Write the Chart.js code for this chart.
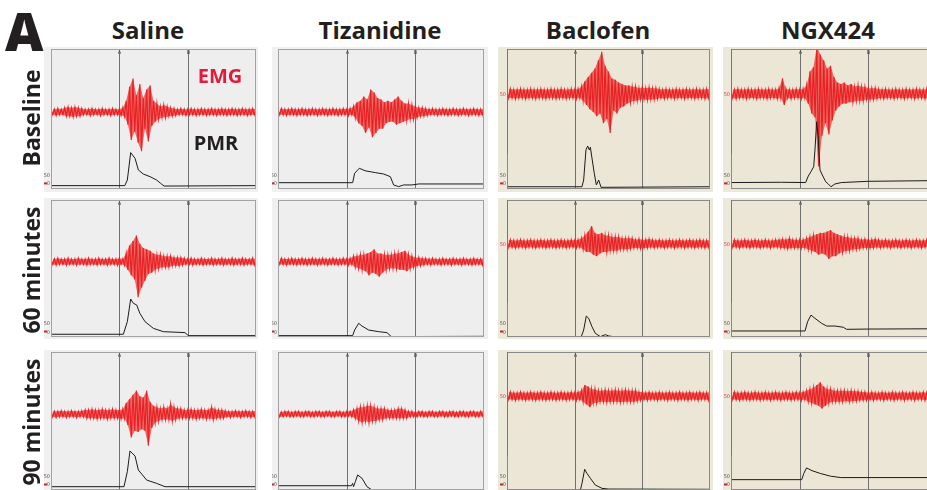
<!DOCTYPE html>
<html><head><meta charset="utf-8">
<script src="https://cdn.jsdelivr.net/npm/chart.js@4.4.1/dist/chart.umd.min.js"></script>
<style>
html,body{margin:0;padding:0;background:#fff;}
#root{position:relative;width:927px;height:490px;overflow:hidden;font-family:"Open Sans",sans-serif;}
#root canvas{position:absolute;}
.t{position:absolute;font-weight:700;color:#231f20;white-space:nowrap;text-align:center;}
</style></head><body><div id="root"></div>
<script>
// ---------------- DATA ----------------
const columns = ['Saline','Tizanidine','Baclofen','NGX424'];
const rowsLab = ['Baseline','60 minutes','90 minutes'];

// EMG envelope extremes (up / down) read every 5 time units (0..300), relative to trace baseline
const salBaseUp = [2,2,2.5,2,3,3.5,3,3.5,3,2.5, 2,2,2.5,2,2,2.5,2,2,2.5,2, 2,3,8,18,24,12,20,10,16,19, 8,6,4,5,4,3,2.5,2,2.5,2, 2,2.5,2,2,2.5,2,2,2.5,2,2, 2.5,2,2,2.5,2,2,2.5,2,2,2.5, 2];
const salBaseDn = [-2,-2.5,-2,-2,-3,-3,-3.5,-3,-3,-2, -2,-2.5,-2,-2,-2.5,-2,-2,-2.5,-2,-2, -2.5,-3,-9,-20,-14,-22,-28,-12,-21,-10, -7,-5,-4,-4,-3,-3,-2.5,-2,-2,-2.5, -2,-2,-2.5,-2,-2,-2.5,-2,-2,-2.5,-2, -2,-2.5,-2,-2,-2.5,-2,-2,-2.5,-2,-2, -2];
const tizBaseUp = [2,2.5,2,2,2.5,2,2,2.5,2,2, 2.5,2,2,2.5,2,2,2.5,2,2,2.5, 2,2.5,4,7,8,11,9,16,14,10, 9,7,8,7,9,11,8,6,6,5, 4,3,3,2.5,2,2.5,2,2,2.5,2, 2,2.5,2,2,2.5,2,2,2.5,2,2, 2.5];
const tizBaseDn = [-2,-2,-2.5,-2,-2,-2.5,-2,-2,-2.5,-2, -2,-2.5,-2,-2,-2.5,-2,-2,-2.5,-2,-2, -2.5,-2,-4,-8,-10,-15,-11,-18,-15,-12, -12,-8,-7,-7,-9,-8,-7,-6,-5,-5, -4,-3,-3,-2.5,-2,-2,-2.5,-2,-2,-2.5, -2,-2,-2.5,-2,-2,-2.5,-2,-2,-2.5,-2, -2];
const bacBaseUp = [3,3.5,3,3,3.5,3,3,3.5,3,3, 3.5,3,3,3.5,3,3,3.5,3,3,3.5, 3,3.5,5,9,12,15,18,24,30,20, 16,11,10,8,7,6,6,5,5,4, 4.5,4,4.5,4,4,3.5,3,3.5,3,3, 3.5,3,3,3.5,3,3,3.5,3,3,3.5, 3];
const bacBaseDn = [-3,-3,-3.5,-3,-3,-3.5,-3,-3,-3.5,-3, -3,-3.5,-3,-3,-3.5,-3,-3,-3.5,-3,-3, -3.5,-3,-5,-8,-11,-13,-16,-14,-21,-18, -28,-12,-14,-10,-9,-7,-6,-5,-5,-4, -4,-4.5,-4,-4,-3.5,-3,-3.5,-3,-3,-3.5, -3,-3,-3.5,-3,-3,-3.5,-3,-3,-3.5,-3, -3];
const ngxBaseUp = [3,3,3.5,3,3,3.5,3,3,3.5,3, 3,3.5,3,3,4,11,3.5,3,3,3.5, 3,3.5,6,16,19,34,28,24,18,20, 12,8,7,8,6,7,5,6,5,5, 4,4,4,3.5,3,3.5,3,3,3.5,3, 3,3.5,3,3,3.5,3,3,3.5,3,3, 3.5];
const ngxBaseDn = [-3,-3.5,-3,-3,-3.5,-3,-3,-3.5,-3,-3, -3.5,-3,-3,-3.5,-3,-8,-3,-3.5,-3,-3, -3.5,-3,-7,-14,-17,-52,-30,-21,-29,-19, -12,-9,-7,-7,-6,-6,-5,-5,-5,-4, -4,-4,-3.5,-3,-3.5,-3,-3,-3.5,-3,-3, -3.5,-3,-3,-3.5,-3,-3,-3.5,-3,-3,-3.5, -3];

const sal60Up = [2,2,2.5,2,2,2.5,2,2,2.5,2, 2,2.5,2,2,2.5,2,2,2.5,2,2, 2.5,2,6,12,15,19,13,10,9,8, 6,5,5,4,4,4,3,3,3,2.5, 2,2.5,2,2,2.5,2,2,2.5,2,2, 2.5,2,2,2.5,2,2,2.5,2,2,2.5, 2];
const sal60Dn = [-2,-2.5,-2,-2,-2.5,-2,-2,-2.5,-2,-2, -2.5,-2,-2,-2.5,-2,-2,-2.5,-2,-2,-2.5, -2,-2.5,-6,-10,-13,-26,-19,-14,-9,-8, -6,-5,-4,-4,-4,-3,-3,-3,-2.5,-2, -2,-2.5,-2,-2,-2.5,-2,-2,-2.5,-2,-2, -2.5,-2,-2,-2.5,-2,-2,-2.5,-2,-2,-2.5, -2];
const tiz60Up = [2,2.5,2,2,2.5,2,2,2.5,2,2, 2.5,2,2,2.5,2,2,2.5,2,2,2.5, 2,2.5,4,4,5,5,6,7,9,6, 6,5,5,5,6,6,7,8,5,4, 3,3,2.5,2.5,2,2.5,2,2,2.5,2, 2,2.5,2,2,2.5,2,2,2.5,2,2, 2.5];
const tiz60Dn = [-2,-2,-2.5,-2,-2,-2.5,-2,-2,-2.5,-2, -2,-2.5,-2,-2,-2.5,-2,-2,-2.5,-2,-2, -2.5,-2,-4,-5,-6,-7,-10,-8,-9,-11, -8,-6,-5,-5,-5,-6,-6,-7,-5,-4, -3,-3,-2.5,-2,-2.5,-2,-2,-2.5,-2,-2, -2.5,-2,-2,-2.5,-2,-2,-2.5,-2,-2,-2.5, -2];
const bac60Up = [2.5,3,2.5,2.5,3,2.5,2.5,3,2.5,2.5, 3,2.5,2.5,3,2.5,2.5,3,2.5,2.5,3, 2.5,3,4,6,9,13,8,7,8,6, 6,5,5,5,4,4,4,4,3,3.5, 3,3,3.5,3,2.5,3,2.5,2.5,3,2.5, 2.5,3,2.5,2.5,3,2.5,2.5,3,2.5,2.5, 3];
const bac60Dn = [-2.5,-2.5,-3,-2.5,-2.5,-3,-2.5,-2.5,-3,-2.5, -2.5,-3,-2.5,-2.5,-3,-2.5,-2.5,-3,-2.5,-2.5, -3,-2.5,-4,-6,-6,-8,-9,-7,-6,-6, -5,-5,-5,-4,-4,-4,-3.5,-3,-3,-3.5, -3,-3,-2.5,-3,-2.5,-2.5,-3,-2.5,-2.5,-3, -2.5,-2.5,-3,-2.5,-2.5,-3,-2.5,-2.5,-3,-2.5, -2.5];
const ngx60Up = [2.5,3,2.5,2.5,3,2.5,2.5,3,2.5,2.5, 3,2.5,2.5,3,3,3.5,3,4,3,3, 3,3,4,5,6,7,8,8,9,10, 8,7,6,5,5,4,4,4,3,3.5, 3,3,3.5,3,2.5,3,2.5,2.5,3,2.5, 2.5,3,2.5,2.5,3,2.5,2.5,3,2.5,2.5, 3];
const ngx60Dn = [-2.5,-2.5,-3,-2.5,-2.5,-3,-2.5,-2.5,-3,-2.5, -2.5,-3,-2.5,-2.5,-3,-3,-3.5,-3,-3,-3, -3,-3,-4,-5,-6,-8,-7,-8,-11,-9, -9,-7,-6,-5,-5,-4,-4,-3.5,-3,-3, -3,-3,-2.5,-3,-2.5,-2.5,-3,-2.5,-2.5,-3, -2.5,-2.5,-3,-2.5,-2.5,-3,-2.5,-2.5,-3,-2.5, -2.5];

const sal90Up = [2.5,2,2,2.5,2,2,2.5,2,2,2.5, 3,3,3.5,3,3,3.5,3,3,3.5,3, 3,3.5,8,11,14,17,13,12,17,9, 6,5,4,5,4,7,5,4,4,3, 3,3.5,3,3,3.5,3,3,5,3.5,3, 3,2.5,2,2,2.5,2,2,2.5,2,2, 2.5];
const sal90Dn = [-2,-2.5,-2,-2,-2.5,-2,-2,-2.5,-2,-2, -3,-3,-3,-3.5,-3,-3,-3.5,-3,-3,-3, -3.5,-3,-8,-17,-12,-13,-11,-12,-23,-10, -6,-5,-4,-4,-4,-5,-4,-3,-3,-3, -3,-3,-3.5,-3,-3,-3.5,-3,-4,-3,-3, -3,-2,-2.5,-2,-2,-2.5,-2,-2,-2.5,-2, -2];
const tiz90Up = [2,1.5,2,2,1.5,2,2,1.5,2,2, 1.5,2,2,1.5,2,2,1.5,2,2,1.5, 2,2,3,4,5,5,6,6,5,4, 4,4,3,3,3,4,4,3,2,2, 1.5,2,2,1.5,2,2,1.5,2,2,1.5, 2,2,1.5,2,2,1.5,2,2,1.5,2, 2];
const tiz90Dn = [-2,-2,-1.5,-2,-2,-1.5,-2,-2,-1.5,-2, -2,-1.5,-2,-2,-1.5,-2,-2,-1.5,-2,-2, -1.5,-2,-3,-5,-6,-5,-6,-5,-5,-4, -4,-3,-3,-3,-3,-3,-3,-3,-2,-2, -2,-1.5,-2,-2,-1.5,-2,-2,-1.5,-2,-2, -1.5,-2,-2,-1.5,-2,-2,-1.5,-2,-2,-1.5, -2];
const bac90Up = [2.5,3,2.5,2.5,3,2.5,2.5,3,2.5,2.5, 3,2.5,2.5,3,2.5,2.5,3,2.5,2.5,3, 2.5,3,4,8,7,5,5,4,4,4.5, 4,4,4.5,4,4,4.5,4,4,4,3, 3,2.5,3,2.5,2.5,3,2.5,2.5,3,2.5, 2.5,3,2.5,2.5,3,2.5,2.5,3,2.5,2.5, 3];
const bac90Dn = [-2.5,-2.5,-3,-2.5,-2.5,-3,-2.5,-2.5,-3,-2.5, -2.5,-3,-2.5,-2.5,-3,-2.5,-2.5,-3,-2.5,-2.5, -3,-2.5,-4,-6,-8,-5,-5,-4,-4,-4.5, -4,-4,-4,-4.5,-4,-4,-4,-4,-3.5,-3, -2.5,-3,-2.5,-2.5,-3,-2.5,-2.5,-3,-2.5,-2.5, -3,-2.5,-2.5,-3,-2.5,-2.5,-3,-2.5,-2.5,-3, -2.5];
const ngx90Up = [2.5,3,2.5,2.5,3,2.5,2.5,3,2.5,2.5, 3,2.5,2.5,3,2.5,2.5,3,2.5,2.5,3, 2.5,3,4,5,6,8,10,7,5,5, 4,4,4,4,3.5,4,3.5,3.5,3,3, 2.5,3,2.5,2.5,3,2.5,2.5,3,2.5,2.5, 3,2.5,2.5,3,2.5,2.5,3,2.5,2.5,3, 2.5];
const ngx90Dn = [-2.5,-2.5,-3,-2.5,-2.5,-3,-2.5,-2.5,-3,-2.5, -2.5,-3,-2.5,-2.5,-3,-2.5,-2.5,-3,-2.5,-2.5, -3,-2.5,-4,-5,-6,-7,-9,-7,-5,-4, -4,-4,-4,-3.5,-4,-3.5,-3.5,-3,-3,-3, -2.5,-3,-2.5,-2.5,-3,-2.5,-2.5,-3,-2.5,-2.5, -3,-2.5,-2.5,-3,-2.5,-2.5,-3,-2.5,-2.5,-3, -2.5];

// PMR traces: vertices (time, level)
const salBasePmrT = [0,108,111.7,116.6,123,127.8,135,145,154.6,160.5,165.4,300];
const salBasePmrV = [2.4,2.4,6.4,26,21.9,13.6,10.7,8.8,6.4,4,2.1,2.4];
const tizBasePmrT = [0,108.7,111.6,115,118.4,127,141.7,153.9,163.6,168.4,175.7,183,195,205,300];
const tizBasePmrV = [4.5,4.5,11.2,13,14.8,13,11.7,10.7,8.8,2.9,1.7,2.9,2.9,3.6,3.6];
const bacBasePmrT = [0,110.8,113.3,116.7,119.2,121.7,123.2,126,129,132,135.5,139,300];
const bacBasePmrV = [1.6,1.6,6.4,27.9,30.7,27.9,29.8,20.7,11.2,2.9,6.4,1.2,1.6];
const ngxBasePmrT = [0,73.8,108.7,112.6,116.5,120.4,122.3,124.7,127.2,129.6,133,137.9,141.7,145.6,151.4,161,200,300];
const ngxBasePmrV = [4.6,4.8,4.6,9.3,12.4,15.9,27.9,48,36,13.6,10,5.2,3.6,1.6,3.6,4.6,5.5,6];
const sal60PmrT = [0,105.9,111.7,116.6,120.5,125.4,130,137.6,149.8,164.4,196,201,300];
const sal60PmrV = [2,2,11.2,27.7,24.6,23.4,17.3,11.2,6.3,3.9,3.2,1,1];
const tiz60PmrT = [0,108.7,111.6,117.5,122.3,132,146.6,158.7,165,300];
const tiz60PmrV = [1,1,5.1,10,8,5.1,3.9,3.2,0.3,0.5];
const bac60PmrT = [0,109.8,113.3,117.2,120.7,125.6,130.5,138,145.3,150,157.6,300];
const bac60PmrV = [0.3,0.3,5.1,15.3,13.6,7.5,2.7,0.3,1.7,0.8,0.2,0.3];
const ngx60PmrT = [0,107.8,111.6,116.5,122.3,132,139.3,151.4,163.6,168.4,200,300];
const ngx60PmrV = [4.4,4.4,11.2,16,13.6,10,8,8,7.1,5.6,5.8,6];
const sal90PmrT = [0,106.8,111.7,115.6,123,127.8,140,154.6,166.8,300];
const sal90PmrV = [2.4,2.4,13.3,28.3,24.6,14.5,7.2,4.8,2.4,2.4];
const tiz90PmrT = [0,106.8,108.7,110,112.6,116,122.3,129.6,136.9,150,300];
const tiz90PmrV = [3.1,3.1,4.8,2.4,6,10.9,8.5,2.4,0,-2,-2];
const bac90PmrT = [0,108,110.8,114.8,118.2,123.2,130.5,140.4,150,300];
const bac90PmrV = [-1,-1,4.8,15,12,8.5,3.6,1.2,0.7,0.5];
const ngx90PmrT = [0,103,106,110,118,130,145,160,300];
const ngx90PmrV = [7.5,7.5,12,16,14,12,10,9,9];

const markers = [100, 200]; // stimulus markers A, B
const markerNames = ['A','B'];

const panelData = [
  [[salBaseUp,salBaseDn,salBasePmrT,salBasePmrV],[tizBaseUp,tizBaseDn,tizBasePmrT,tizBasePmrV],[bacBaseUp,bacBaseDn,bacBasePmrT,bacBasePmrV],[ngxBaseUp,ngxBaseDn,ngxBasePmrT,ngxBasePmrV]],
  [[sal60Up,sal60Dn,sal60PmrT,sal60PmrV],[tiz60Up,tiz60Dn,tiz60PmrT,tiz60PmrV],[bac60Up,bac60Dn,bac60PmrT,bac60PmrV],[ngx60Up,ngx60Dn,ngx60PmrT,ngx60PmrV]],
  [[sal90Up,sal90Dn,sal90PmrT,sal90PmrV],[tiz90Up,tiz90Dn,tiz90PmrT,tiz90PmrV],[bac90Up,bac90Dn,bac90PmrT,bac90PmrV],[ngx90Up,ngx90Dn,ngx90PmrT,ngx90PmrV]]
];

// ---------------- LAYOUT ----------------
const colBox = [ {l:44,w:214,pl:7,pr:2}, {l:272,w:216,pl:6,pr:4}, {l:498,w:215,pl:9,pr:3}, {l:723,w:220,pl:8,pr:6} ];
const rowBox = [ {t:47,h:145,pt:2,pb:3}, {t:198,h:141,pt:2,pb:2}, {t:350,h:145,pt:2,pb:5} ];
const emgBaseLevel = [55,55,68,68];
const root = document.getElementById('root');

function addText(txt, css){ const d=document.createElement('div'); d.className='t'; d.textContent=txt; Object.assign(d.style, css); root.appendChild(d); return d; }

const deco = {
  id:'deco',
  beforeDraw(chart, args, o){
    const c=chart.ctx, a=chart.chartArea;
    c.save();
    c.fillStyle=o.outer; c.fillRect(0,0,chart.width,chart.height);
    c.fillStyle=o.inner; c.fillRect(a.left,a.top,a.right-a.left,a.bottom-a.top);
    const xs=chart.scales.x;
    c.strokeStyle='#707070'; c.lineWidth=1;
    c.fillStyle='#444'; c.font='5px "DejaVu Sans"'; c.textAlign='center';
    markers.forEach((m,i)=>{ const px=Math.round(xs.getPixelForValue(m))+0.5; c.beginPath(); c.moveTo(px,a.top); c.lineTo(px,a.bottom); c.stroke(); c.fillText(markerNames[i],px,a.top+5); });
    const ys=chart.scales.y;
    c.textAlign='right'; c.fillStyle='#555';
    c.fillText('50', a.left-1, ys.getPixelForValue(10)+2);
    c.fillText('0', a.left-1, ys.getPixelForValue(4)+2);
    c.fillStyle='#c0282d'; c.fillRect(a.left-7, ys.getPixelForValue(4)-1, 3, 2);
    if(o.beige){ c.fillStyle='#d04040'; c.fillText('50', a.left-1, ys.getPixelForValue(o.emgBase)+2); }
    c.restore();
  },
  afterDraw(chart, args, o){
    const c=chart.ctx, a=chart.chartArea;
    c.save(); c.strokeStyle=o.frame; c.lineWidth=1;
    c.strokeRect(Math.round(a.left)+0.5, Math.round(a.top)+0.5, Math.round(a.right-a.left)-1, Math.round(a.bottom-a.top)-1);
    if(o.beige){ const ys=chart.scales.y; c.strokeStyle='#dd4a4a'; c.beginPath(); c.moveTo(Math.round(a.left)+0.5,a.top); c.lineTo(Math.round(a.left)+0.5, ys.getPixelForValue(25)); c.stroke(); }
    c.restore();
  }
};

for(let r=0;r<3;r++){
  for(let k=0;k<4;k++){
    const [up,dn,pt,pv] = panelData[r][k];
    const base = emgBaseLevel[k];
    const emgPts=[], upPts=[], dnPts=[];
    for(let i=0;i<up.length;i++){
      emgPts.push({x:i*5, y:base+up[i]}); emgPts.push({x:i*5+2.5, y:base+dn[i]});
      upPts.push({x:i*5, y:base+up[i]}); dnPts.push({x:i*5+2.5, y:base+dn[i]});
    }
    const pmrPts = pt.map((t,i)=>({x:t, y:pv[i]}));
    const cv=document.createElement('canvas');
    cv.width=colBox[k].w; cv.height=rowBox[r].h;
    cv.style.left=colBox[k].l+'px'; cv.style.top=rowBox[r].t+'px';
    root.appendChild(cv);
    const beige = k>=2;
    new Chart(cv,{
      type:'line',
      data:{datasets:[
        {data:pmrPts, borderColor:'#1b1b1b', borderWidth:1, pointRadius:0, tension:0},
        {data:emgPts, borderColor:'rgba(232,26,30,0.92)', borderWidth:1.2, pointRadius:0, tension:0},
        {data:upPts, borderWidth:0, borderColor:'rgba(0,0,0,0)', pointRadius:0, tension:0, fill:false},
        {data:dnPts, borderWidth:0, borderColor:'rgba(0,0,0,0)', pointRadius:0, tension:0, fill:'-1', backgroundColor:'rgba(238,50,45,0.7)'}
      ]},
      options:{
        responsive:false, animation:false, events:[], devicePixelRatio:1,
        layout:{padding:{left:colBox[k].pl,right:colBox[k].pr,top:rowBox[r].pt,bottom:rowBox[r].pb}},
        scales:{x:{type:'linear',min:0,max:300,display:false}, y:{min:0,max:100,display:false}},
        plugins:{legend:{display:false}, tooltip:{enabled:false}, filler:{propagate:false},
          deco:{beige, emgBase:base, outer: beige?'#ece8da':'#f0f0f0', inner: beige?'#ebe6d6':'#eeeeee', frame: beige?'#8a8a8a':'#a2a2a2'}}
      },
      plugins:[deco]
    });
  }
}

// ---------------- TEXT ----------------
addText('A',{left:'5px',top:'-6px',fontSize:'53px',fontWeight:'800',color:'#231f20'});
const titleX=[148,380,598,828];
columns.forEach((c,i)=>addText(c,{left:(titleX[i]-100)+'px',top:'15px',width:'200px',fontSize:'24px',lineHeight:'30px'}));
const rowY=[118,270,422];
rowsLab.forEach((t,i)=>addText(t,{left:(31-80)+'px',top:(rowY[i]-15)+'px',width:'160px',fontSize:'23px',lineHeight:'30px',transform:'rotate(-90deg)'}));
addText('EMG',{left:'180px',top:'62px',width:'80px',fontSize:'20px',lineHeight:'28px',color:'#e31b3b'});
addText('PMR',{left:'176px',top:'129px',width:'80px',fontSize:'20px',lineHeight:'28px',color:'#231f20'});
</script></body></html>
